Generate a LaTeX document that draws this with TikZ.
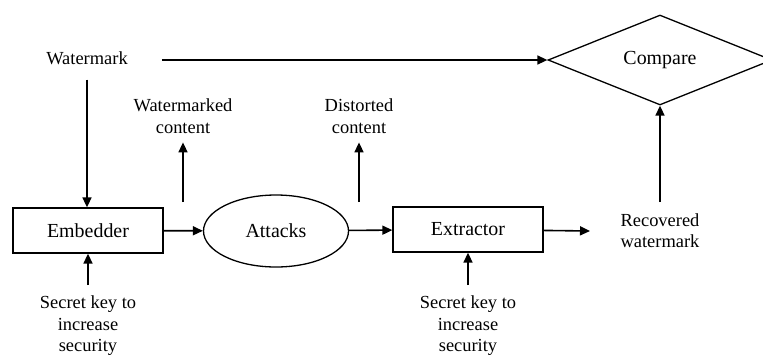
\documentclass[tikz,border=0pt]{standalone}
\usepackage{fontspec}
\setmainfont{Liberation Serif}
\usetikzlibrary{shapes.geometric,arrows.meta}
\begin{document}
\begin{tikzpicture}[x=1bp,y=-1bp,
  lbl/.style={font=\fontsize{18.5}{21.5}\selectfont, align=center, inner sep=0pt},
  boxlbl/.style={font=\fontsize{20}{24}\selectfont},
  blk/.style={draw, line width=1.3bp, minimum width=150bp, minimum height=45bp, inner sep=0pt, boxlbl},
  arr/.style={line width=1.6bp, -{Triangle[length=10bp,width=9bp]}}]
\useasboundingbox (0,0) rectangle (763,356);
\fill[white] (0,0) rectangle (763,356);
\node[blk] (emb) at (88,230.5) {Embedder};
\node[draw, ellipse, line width=1.3bp, minimum width=145bp, minimum height=72bp, inner sep=0pt, boxlbl] (att) at (276,231) {Attacks};
\node[blk] (ext) at (468,229.5) {Extractor};
\node[draw, diamond, line width=1.3bp, minimum width=224bp, minimum height=90bp, aspect=2.4, inner sep=0pt, boxlbl] (cmp) at (660,60) {Compare};
\node[lbl] (wm) at (87,58) {Watermark};
\node[lbl] (wc) at (183,116) {Watermarked\\content};
\node[lbl] (dc) at (359,116) {Distorted\\content};
\node[lbl] (rw) at (660,230.5) {Recovered\\watermark};
\node[lbl] (sk1) at (88,326) {Secret key to\\increase\\security};
\node[lbl] (sk2) at (468,326) {Secret key to\\increase\\security};
\coordinate (wc0) at (183,202);
\coordinate (dc0) at (359,202);
\coordinate (out) at (590,231);
\draw[arr, shorten <=34bp] (wm.east |- cmp.west) -- (cmp.west);
\draw[arr, shorten <=15bp] (wm.south) -- (wm.south |- emb.north);
\draw[arr, shorten >=9bp] (wc0) -- (wc.south);
\draw[arr, shorten >=9bp] (dc0) -- (dc.south);
\draw[arr] (emb) -- (att);
\draw[arr] (att) -- (ext);
\draw[arr] (ext) -- (out);
\draw[arr, shorten <=11bp] (rw.north) -- (cmp.south);
\draw[arr, shorten <=11bp] (sk1.north) -- (emb.south);
\draw[arr, shorten <=11bp] (sk2.north) -- (ext.south);
\end{tikzpicture}
\end{document}
